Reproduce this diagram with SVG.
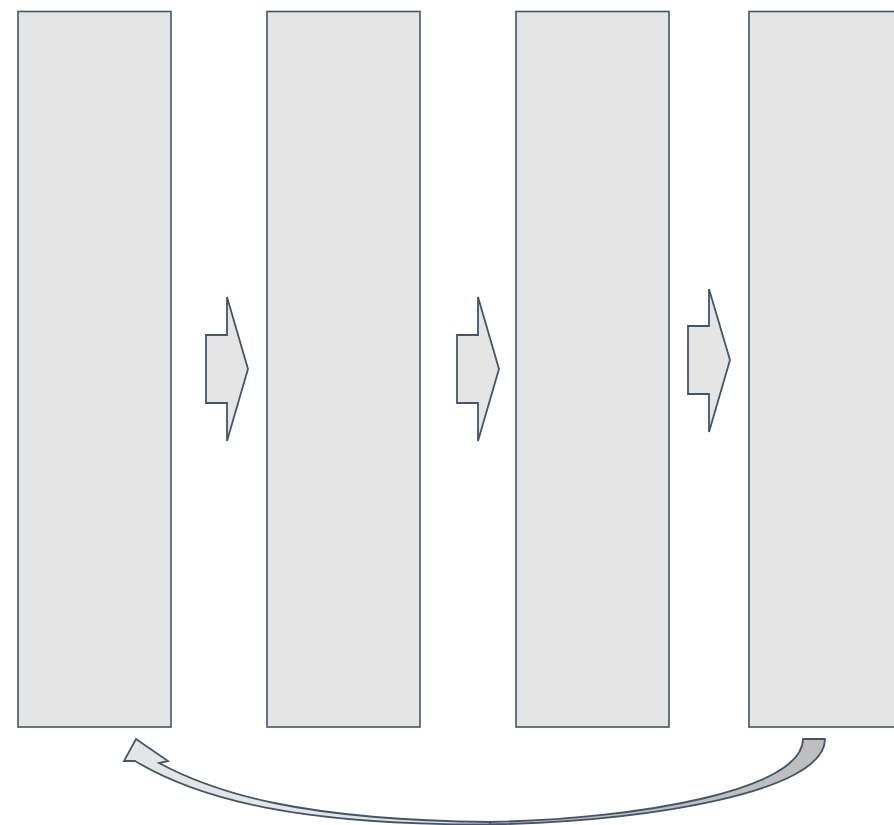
<svg xmlns="http://www.w3.org/2000/svg" width="894" height="825" viewBox="0 0 894 825">
  <style>
    .box { fill: #e5e5e5; stroke: #44546a; stroke-width: 1.6; }
    .arrow { fill: #e5e5e5; stroke: #44546a; stroke-width: 1.8; stroke-linejoin: miter; }
    .back { fill: #bfbfbf; stroke: #44546a; stroke-width: 1.8; stroke-linejoin: round; }
  </style>
  <rect width="894" height="825" fill="#ffffff"/>

  <g id="step1"><rect class="box" x="18" y="11.5" width="153" height="715.5"/></g>
  <g id="step2"><rect class="box" x="267" y="11.5" width="153" height="715.5"/></g>
  <g id="step3"><rect class="box" x="516" y="11.5" width="153" height="715.5"/></g>
  <g id="step4"><rect class="box" x="749" y="11.5" width="153" height="715.5"/></g>

  <g id="connectors">
    <path class="arrow" d="M206,335 L227,335 L227,297 L248,369 L227,441 L227,403 L206,403 Z"/>
    <path class="arrow" d="M457,335 L478,335 L478,297 L499,369 L478,441 L478,403 L457,403 Z"/>
    <path class="arrow" d="M688,326 L709,326 L709,289 L730,360 L709,432 L709,394 L688,394 Z"/>

    <!-- return arrow: underside band on the right, front band with head on the left -->
    <path class="back" d="M490,822 C640,819 803,790 803,739 L825,739 C825,792 650,821 490,824.5 Z"/>
    <path class="arrow" d="M490,824.5 C300,825 200,800 135,761 L124,761 L136,739 L168,761 L159,763 C215,793 300,820 490,822 Z"/>
  </g>
</svg>
